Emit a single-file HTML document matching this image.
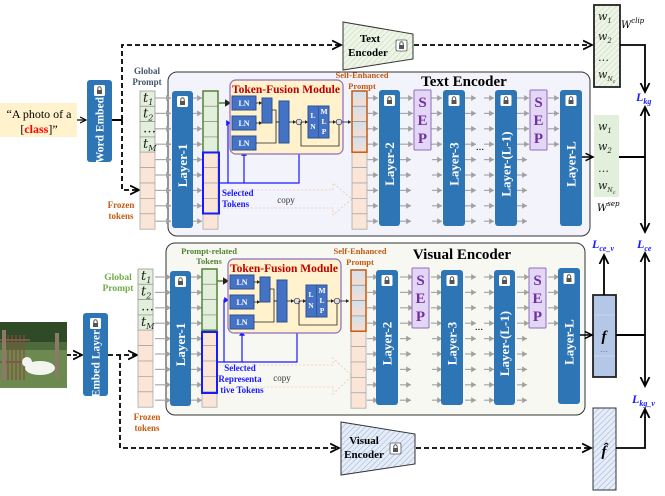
<!DOCTYPE html>
<html><head><meta charset="utf-8"><style>
html,body{margin:0;padding:0;background:#fff;}
svg{display:block;font-family:"Liberation Serif",serif;}
</style></head><body>
<svg id="s" width="665" height="496" viewBox="0 0 665 496" xmlns="http://www.w3.org/2000/svg">
<defs>
<marker id="ak" markerWidth="6" markerHeight="6" refX="5" refY="3" orient="auto"><path d="M0,0.5 L5,3 L0,5.5" fill="none" stroke="#000" stroke-width="1"/></marker>
<marker id="ag" markerWidth="5" markerHeight="5" refX="4" refY="2.5" orient="auto"><path d="M0,0 L4,2.5 L0,5z" fill="#a0a0a0"/></marker>
<marker id="ab" markerWidth="5" markerHeight="5" refX="4" refY="2.5" orient="auto"><path d="M0,0 L4,2.5 L0,5z" fill="#1a1aff"/></marker>
<marker id="ad" markerWidth="5" markerHeight="5" refX="4" refY="2.5" orient="auto"><path d="M0,0 L4,2.5 L0,5z" fill="#222"/></marker>
<pattern id="hg" width="4" height="4" patternUnits="userSpaceOnUse" patternTransform="rotate(45)"><rect width="4" height="4" fill="#eef5e8"/><line x1="0" y1="0" x2="0" y2="4" stroke="#c8dcb8" stroke-width="1.2"/></pattern>
<pattern id="hb" width="4" height="4" patternUnits="userSpaceOnUse" patternTransform="rotate(45)"><rect width="4" height="4" fill="#e6edf8"/><line x1="0" y1="0" x2="0" y2="4" stroke="#9fb6dc" stroke-width="1.2"/></pattern>
<linearGradient id="sp" x1="0" y1="0" x2="0" y2="1"><stop offset="0" stop-color="#cfe0f0"/><stop offset="1" stop-color="#f8ddd0"/></linearGradient>
</defs>
<g id="g"></g>
</svg>
<script>
var o=[];
function R(x,y,w,h,f,s,sw,rx,ex){o.push('<rect x="'+x+'" y="'+y+'" width="'+w+'" height="'+h+'" fill="'+f+'" stroke="'+(s||'none')+'" stroke-width="'+(sw||1)+'" rx="'+(rx||0)+'" '+(ex||'')+'/>');}
function L(x1,y1,x2,y2,c,w,m,ex){o.push('<line x1="'+x1+'" y1="'+y1+'" x2="'+x2+'" y2="'+y2+'" stroke="'+c+'" stroke-width="'+w+'" '+(m?'marker-end="url(#'+m+')"':'')+' '+(ex||'')+'/>');}
function P(d,c,w,m,ex){o.push('<path d="'+d+'" fill="none" stroke="'+c+'" stroke-width="'+w+'" '+(m?'marker-end="url(#'+m+')"':'')+' '+(ex||'')+'/>');}
function T(x,y,t,sz,c,ex){o.push('<text x="'+x+'" y="'+y+'" font-size="'+sz+'" fill="'+c+'" '+(ex||'')+'>'+t+'</text>');}
function lock(x,y){R(x,y,11,11,'#fff','none',1,1.5);R(x+3,y+5,5,4,'#555');P('M'+(x+3.8)+','+(y+5)+' v-1.5 a1.7,1.7 0 0 1 3.4,0 v1.5','#555',1);}
function layer(x,y,w,h,label,fs,off){fs=fs||13;off=off||6;R(x,y,w,h,'#2e75b6','none',1,3);lock(x+w/2-5.5,y+5);var cx=x+w/2+fs*0.35,cy=y+h/2+off;T(cx,cy,label,fs,'#fff','font-weight="bold" text-anchor="middle" transform="rotate(-90 '+cx+' '+cy+')"');}
function sep(x,y){R(x,y,17,60,'#e4d7f5','#8e6bbf',1,1);['S','E','P'].forEach(function(c,i){T(x+8.5,y+17+i*18,c,15,'#7030a0','font-weight="bold" text-anchor="middle"');});}
function tfm(dx,dy){
 R(230+dx,80+dy,113,74,'#fff2cc','#8e6bbf',1.2,6);
 T(286+dx,93+dy,'Token-Fusion Module',11.5,'#c00000','font-weight="bold" text-anchor="middle"');
 [96,116,136].forEach(function(y){R(232+dx,y+dy,24,14,'#4472c4','#2f528f',1);T(244+dx,y+dy+10,'LN',8,'#fff','font-weight="bold" text-anchor="middle"');});
 R(262+dx,98+dy,10,25,'#4472c4','#2f528f',1);R(279+dx,101+dy,10,42,'#4472c4','#2f528f',1);
 R(308+dx,106+dy,21,32,'#4472c4','#2f528f',1);L(318.5+dx,106+dy,318.5+dx,138+dy,'#2f528f',0.8);
 T(313+dx,118+dy,'L',7.5,'#fff','font-weight="bold" text-anchor="middle"');T(313+dx,129+dy,'N',7.5,'#fff','font-weight="bold" text-anchor="middle"');
 T(324+dx,114+dy,'M',7.5,'#fff','font-weight="bold" text-anchor="middle"');T(324+dx,124+dy,'L',7.5,'#fff','font-weight="bold" text-anchor="middle"');T(324+dx,134+dy,'P',7.5,'#fff','font-weight="bold" text-anchor="middle"');
 L(256+dx,103+dy,262+dx,103+dy,'#222',0.8,'ad');L(256+dx,123+dy,262+dx,123+dy,'#222',0.8,'ad');
 P('M'+(256+dx)+','+(143+dy)+' H'+(276+dx)+' V'+(122+dy)+' H'+(279+dx),'#222',0.8);
 P('M'+(272+dx)+','+(110+dy)+' H'+(276+dx)+' V'+(122+dy)+' H'+(279+dx),'#222',0.8);
 L(289+dx,122+dy,296+dx,122+dy,'#222',0.8,'ad');
 o.push('<circle cx="'+(299+dx)+'" cy="'+(122+dy)+'" r="2.8" fill="#dde" stroke="#333" stroke-width="0.7"/>');
 L(302+dx,122+dy,308+dx,122+dy,'#222',0.8,'ad');
 P('M'+(301+dx)+','+(122+dy)+' V'+(146+dy)+' H'+(339+dx)+' V'+(125+dy),'#222',0.8);
 L(329+dx,122+dy,336+dx,122+dy,'#222',0.8,'ad');
 o.push('<circle cx="'+(339+dx)+'" cy="'+(122+dy)+'" r="2.8" fill="#dde" stroke="#333" stroke-width="0.7"/>');
 L(342+dx,122+dy,351+dx,122+dy,'#222',0.8,'ad');
}
function tokcol(x,y,h4,n5,fill4,stroke4,sw){
 for(var i=0;i<4;i++)R(x,y+i*15.3,15,15.3,fill4,'#999',0.8);
 for(var i=0;i<5;i++)R(x,y+61.2+i*15.4,15,15.4,'#fbe5d6','#aaa',0.8);
 if(stroke4)R(x,y,15,61.2,'none',stroke4,sw||1.5);
}
function enc(dy,top){
 var rows=[];for(var i=0;i<9;i++)rows.push(98+dy+i*15.4);
 rows.forEach(function(r,i){
  L(155,r,171,r,'#a8a8a8',1.2,'ag');
  L(top?193:191,r,202,r,'#a8a8a8',1.2,'ag');
  L(367,r,378,r,'#a8a8a8',1.2,'ag');
  if(i<4){L(400,r,413,r,'#a8a8a8',1.2,'ag');L(431,r,442,r,'#a8a8a8',1.2,'ag');L(517,r,529,r,'#a8a8a8',1.2,'ag');L(548,r,559,r,'#a8a8a8',1.2,'ag');}
  else{L(400,r,411,r,'#a8a8a8',1.2,'ag');L(432,r,442,r,'#a8a8a8',1.2,'ag');L(517,r,527,r,'#a8a8a8',1.2,'ag');}
  L(465,r,476,r,'#a8a8a8',1.2,'ag');L(484,r,494,r,'#a8a8a8',1.2,'ag');
 });
}
// ===== TOP =====
R(0,103,77,34,'#fff2cc');
T(39,118,'“A photo of a',12,'#000','text-anchor="middle"');
o.push('<text x="39" y="133" font-size="12" text-anchor="middle">[<tspan fill="#ff0000" font-weight="bold">class</tspan>]”</text>');
L(77,120,86,120,'#000',1.2,'ak');
P('M112,120 H122','#000',2);
P('M122,120 V45 H341','#000',1.8,'ak','stroke-dasharray="5,3"');
P('M122,120 V190 H139','#000',1.8,'ak','stroke-dasharray="5,3"');
layer(87,80,25,82,'Word Embed',11.5,9);
R(168,72,422,164,'#f3f3fb','#333',1,9);
T(464,86,'Text Encoder',15,'#000','font-weight="bold" text-anchor="middle"');
T(147,74,'Global',9,'#44546a','font-weight="bold" text-anchor="middle"');
T(147,85,'Prompt',9,'#44546a','font-weight="bold" text-anchor="middle"');
T(121,208,'Frozen',9,'#c55a11','font-weight="bold" text-anchor="middle"');
T(121,219,'tokens',9,'#c55a11','font-weight="bold" text-anchor="middle"');
enc(0,true);
tokcol(140,91,0,0,'#e2efda');
var tl=['t<tspan font-size="8" dy="3">1</tspan>','t<tspan font-size="8" dy="3">2</tspan>','…','t<tspan font-size="8" dy="3">M</tspan>'];
tl.forEach(function(t,i){T(143,102+i*15.3,t,13,'#222','font-family="DejaVu Serif" font-style="italic"');});
layer(172,91,21,137,'Layer-1');
tokcol(203,91,0,0,'#e2efda','#548235',1.5);
R(203,152.5,16,61,'none','#1a1aff',2);
P('M221,190 H333 V183 L352,199 L333,215 V208 H221','#f4b183',0.8,null,'stroke-dasharray="2,2" fill="#fdf3ee" opacity="0.7"');
T(286,203,'copy',9,'#333','text-anchor="middle"');
T(222,196,'Selected',9,'#1a1aff','font-weight="bold"');
T(222,207,'Tokens',9,'#1a1aff','font-weight="bold"');
P('M219,183 H228 V123 H231','#1a1aff',1.2,'ab');
P('M228,183 H244 V151','#1a1aff',1.2,'ab');
P('M244,183 H299 V126','#1a1aff',1.2,'ab');
L(219,103,231,103,'#548235',1.5,'ad');
tfm(0,0);
T(362,78,'Self-Enhanced',8.5,'#c55a11','font-weight="bold" text-anchor="middle"');
T(362,89,'Prompt',8.5,'#c55a11','font-weight="bold" text-anchor="middle"');
tokcol(352,91,0,0,'url(#sp)','#c55a11',1.5);
layer(379,90,21,136,'Layer-2');
sep(414,90);
layer(443,90,22,136,'Layer-3');
T(480,150,'...',11,'#000','text-anchor="middle"');
layer(495,90,22,136,'Layer-(L-1)');
sep(530,90);
layer(560,90,22,136,'Layer-L');
o.push('<polygon points="343,22 413,34 413,59 343,70" fill="url(#hg)" stroke="#333" stroke-width="1"/>');
T(370,42,'Text',11,'#000','font-weight="bold" text-anchor="middle"');
T(368,56,'Encoder',11,'#000','font-weight="bold" text-anchor="middle"');
lock(396,40);R(396,40,11,11,'none','#555',0.8,1.5);
P('M414,45 H592','#000',1.8,'ak','stroke-dasharray="5,3"');
R(594,5,26,82,'url(#hg)','#222',1.8);
['w<tspan font-size="7" dy="3">1</tspan>','w<tspan font-size="7" dy="3">2</tspan>','…','w<tspan font-size="6" dy="3">N</tspan><tspan font-size="5" dy="2">c</tspan>'].forEach(function(t,i){T(598,[20,40,61,78][i],t,11,'#222','font-family="DejaVu Serif" font-style="italic"');});
o.push('<text x="621" y="28" font-size="10" font-style="italic" font-family="DejaVu Serif">W<tspan font-size="7" dy="-5">clip</tspan></text>');
P('M620,45 H645 V92','#000',1.8,'ak');
o.push('<text x="636" y="101" font-size="12" fill="#1a1aff" font-weight="bold" font-style="italic">L<tspan font-size="8" dy="3">kg</tspan></text>');
R(594,115,25,82,'#e2efda');
['w<tspan font-size="7" dy="3">1</tspan>','w<tspan font-size="7" dy="3">2</tspan>','…','w<tspan font-size="6" dy="3">N</tspan><tspan font-size="5" dy="2">c</tspan>'].forEach(function(t,i){T(598,[130,150,172,189][i],t,11,'#222','font-family="DejaVu Serif" font-style="italic"');});
o.push('<text x="597" y="211" font-size="10" font-style="italic" font-family="DejaVu Serif">W<tspan font-size="7" dy="-5">sep</tspan></text>');
L(582,157,593,157,'#000',1.5,'ak');
L(619,157,645,157,'#000',2);
L(645,157,645,107,'#000',1.8,'ak');
L(645,157,645,232,'#000',1.8,'ak');
o.push('<text x="637" y="248" font-size="12" fill="#1a1aff" font-weight="bold" font-style="italic">L<tspan font-size="8" dy="3">ce</tspan></text>');
// ===== BOTTOM =====
R(0,322,67,66,'#4d6b3c');
R(0,322,67,20,'#2f4a26');
R(0,350,67,38,'#6c8a50');
for(var i=0;i<6;i++)L(4+i*4,335,4+i*4,380,'#8a4a3a',1.2);
L(0,340,30,340,'#7a5a4a',2);L(0,362,30,362,'#7a5a4a',2);
R(55,333,4,45,'#8a7a66');R(2,330,4,50,'#8a7a66');
o.push('<ellipse cx="40" cy="368" rx="15" ry="7" fill="#f4f4f0"/><ellipse cx="27" cy="362" rx="5" ry="5" fill="#f4f4f0"/>');
L(67,355,82,355,'#000',1.8,'ak','stroke-dasharray="4,2"');
layer(83,313,25,83,'Embed Layer',11.5,9);
P('M108,355 H137','#000',1.8,'ak','stroke-dasharray="5,3"');
P('M120,355 V448 H339','#000',1.8,'ak','stroke-dasharray="5,3"');
R(166,243,419,172,'#f6f8f1','#333',1,9);
T(462,259,'Visual Encoder',15,'#000','font-weight="bold" text-anchor="middle"');
T(118,280,'Global',9.5,'#70ad47','font-weight="bold" text-anchor="middle"');
T(118,291,'Prompt',9.5,'#70ad47','font-weight="bold" text-anchor="middle"');
T(147,420,'Frozen',9,'#c55a11','font-weight="bold" text-anchor="middle"');
T(147,431,'tokens',9,'#c55a11','font-weight="bold" text-anchor="middle"');
T(209,254,'Prompt-related',8.5,'#548235','font-weight="bold" text-anchor="middle"');
T(209,264,'Tokens',8.5,'#548235','font-weight="bold" text-anchor="middle"');
enc(179,false);
tokcol(138,269,0,0,'#e2efda');
tl.forEach(function(t,i){T(141,280+i*15.3,t,13,'#222','font-family="DejaVu Serif" font-style="italic"');});
layer(170,271,21,135,'Layer-1');
tokcol(202,269,0,0,'#e2efda','#548235',1.5);
R(202,332,15,61,'none','#1a1aff',2);
P('M219,365 H333 V358 L352,376 L333,394 V387 H219','#f4b183',0.8,null,'stroke-dasharray="2,2" fill="#fdf3ee" opacity="0.7"');
T(282,381,'copy',9,'#333','text-anchor="middle"');
T(240,371,'Selected',9,'#1a1aff','font-weight="bold" text-anchor="middle"');
T(240,382,'Representa',9,'#1a1aff','font-weight="bold" text-anchor="middle"');
T(242,393,'tive Tokens',9,'#1a1aff','font-weight="bold" text-anchor="middle"');
P('M217,362 H224 V300 H229','#1a1aff',1.2,'ab');
P('M224,362 H242 V331','#1a1aff',1.2,'ab');
P('M242,362 H297 V306','#1a1aff',1.2,'ab');
L(217,281,229,281,'#548235',1.5,'ad');
tfm(-2,179);
T(360,254,'Self-Enhanced',8.5,'#c55a11','font-weight="bold" text-anchor="middle"');
T(360,265,'Prompt',8.5,'#c55a11','font-weight="bold" text-anchor="middle"');
tokcol(351,270,0,0,'url(#sp)','#c55a11',1.5);
layer(376,270,22,135,'Layer-2');
sep(412,268);
layer(441,270,22,135,'Layer-3');
T(479,330,'...',11,'#000','text-anchor="middle"');
layer(494,270,21,135,'Layer-(L-1)');
sep(529,268);
layer(558,268,22,136,'Layer-L');
R(593,295,23,82,'#b4c7e7','#222',1.8);
L(594,315,615,315,'#cfdcef',0.8);L(594,356,615,356,'#cfdcef',0.8);
T(604,341,'f',15,'#000','font-weight="bold" font-style="italic" text-anchor="middle"');
T(604,352,'…',8,'#666','text-anchor="middle"');
L(580,335,592,335,'#000',1.5,'ak');
L(604,295,604,255,'#000',1.8,'ak');
o.push('<text x="592" y="248" font-size="12" fill="#1a1aff" font-weight="bold" font-style="italic">L<tspan font-size="8" dy="3">ce_v</tspan></text>');
L(616,335,645,335,'#000',2);
L(645,335,645,253,'#000',1.8,'ak');
L(645,335,645,386,'#000',1.8,'ak');
o.push('<text x="632" y="403" font-size="12" fill="#1a1aff" font-weight="bold" font-style="italic">L<tspan font-size="8" dy="3">kg_v</tspan></text>');
o.push('<polygon points="341,422 415,434 415,464 341,475" fill="url(#hb)" stroke="#333" stroke-width="1"/>');
T(364,444,'Visual',11,'#000','font-weight="bold" text-anchor="middle"');
T(364,458,'Encoder',11,'#000','font-weight="bold" text-anchor="middle"');
lock(390,443);R(390,443,11,11,'none','#555',0.8,1.5);
P('M416,448 H591','#000',1.8,'ak','stroke-dasharray="5,3"');
R(593,408,23,82,'url(#hb)','#333',1);
T(604,456,'f̂',15,'#000','font-weight="bold" font-style="italic" text-anchor="middle"');
P('M616,448 H645 V409','#000',1.8,'ak');
document.getElementById('g').innerHTML=o.join('');
</script>
</body></html>
